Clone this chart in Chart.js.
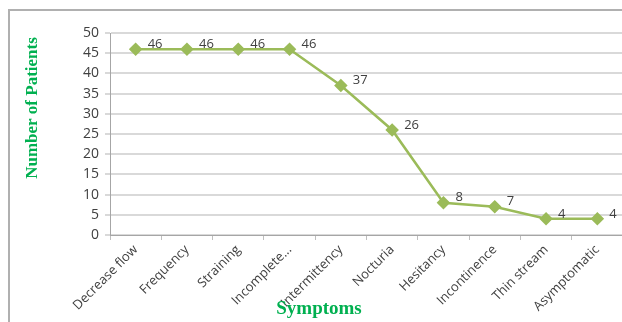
<!DOCTYPE html>
<html>
<head>
<meta charset="utf-8">
<script src="https://cdn.jsdelivr.net/npm/chart.js@4"></script>
<style>
  html, body { margin: 0; padding: 0; background: #fff; overflow: hidden; }
  #wrap { position: absolute; left: 0; top: 0; width: 640px; height: 322px; }
  #frame { position: absolute; left: 8px; top: 9px; width: 700px; height: 400px;
           border-left: 2px solid #b0b0b0; border-top: 2px solid #b0b0b0; }
</style>
</head>
<body>
<div id="frame"></div>
<div id="wrap"><canvas id="symChart"></canvas></div>
<script>
const symptoms = ['Decrease flow', 'Frequency', 'Straining', 'Incomplete...', 'Intermittency',
                  'Nocturia', 'Hesitancy', 'Incontinence', 'Thin stream', 'Asymptomatic'];
const patients = [46, 46, 46, 46, 37, 26, 8, 7, 4, 4];
const yTicks = [0, 5, 10, 15, 20, 25, 30, 35, 40, 45, 50];

const green = '#9bbb59';
const titleGreen = '#00b050';

// value labels to the right of each point
const valueLabels = {
  id: 'valueLabels',
  afterDatasetsDraw(chart) {
    const ctx = chart.ctx;
    const meta = chart.getDatasetMeta(0);
    ctx.save();
    ctx.font = '13px "Open Sans"';
    ctx.fillStyle = '#404040';
    ctx.textBaseline = 'middle';
    meta.data.forEach(function (pt, i) {
      ctx.fillText(patients[i], pt.x + 12, pt.y - 5);
    });
    ctx.restore();
  }
};

// axis titles drawn where the original has them
const axisTitles = {
  id: 'axisTitles',
  afterDraw(chart) {
    const ctx = chart.ctx;
    ctx.save();
    ctx.fillStyle = titleGreen;
    ctx.textAlign = 'center';
    ctx.textBaseline = 'middle';
    ctx.font = 'bold 19px "Liberation Serif"';
    ctx.fillText('Symptoms', 319, 309);
    ctx.font = 'bold 17px "Liberation Serif"';
    ctx.translate(33, 108);
    ctx.rotate(-Math.PI / 2);
    ctx.fillText('Number of Patients', 0, 0);
    ctx.restore();
  }
};

const ctx = document.getElementById('symChart').getContext('2d');
const myChart = new Chart(ctx, {
  type: 'line',
  data: {
    labels: symptoms,
    datasets: [{
      data: patients,
      borderColor: green,
      backgroundColor: green,
      borderWidth: 2.5,
      pointStyle: 'rectRot',
      pointRadius: 5,
      pointHoverRadius: 5,
      tension: 0,
      fill: false
    }]
  },
  options: {
    responsive: true,
    maintainAspectRatio: false,
    animation: false,
    layout: { padding: { left: 0, right: 17, top: 33, bottom: 0 } },
    plugins: { legend: { display: false }, tooltip: { enabled: false } },
    scales: {
      x: {
        offset: true,
        afterFit: function (scale) { scale.height = 87; },
        grid: { drawOnChartArea: false, drawTicks: true, tickLength: 5, color: '#bfbfbf', offset: true },
        border: { color: '#a6a6a6' },
        ticks: {
          minRotation: 45, maxRotation: 45, autoSkip: false,
          color: '#404040', font: { family: 'Open Sans', size: 13 }, padding: 2
        }
      },
      y: {
        min: 0, max: 50,
        afterFit: function (scale) { scale.width = 110; },
        afterBuildTicks: function (scale) { scale.ticks = yTicks.map(v => ({ value: v })); },
        grid: { color: '#d9d9d9', lineWidth: 2, tickLength: 5 },
        border: { color: '#a6a6a6' },
        ticks: { color: '#404040', font: { family: 'Open Sans', size: 14 }, padding: 6 }
      }
    }
  },
  plugins: [valueLabels, axisTitles]
});
</script>
</body>
</html>
